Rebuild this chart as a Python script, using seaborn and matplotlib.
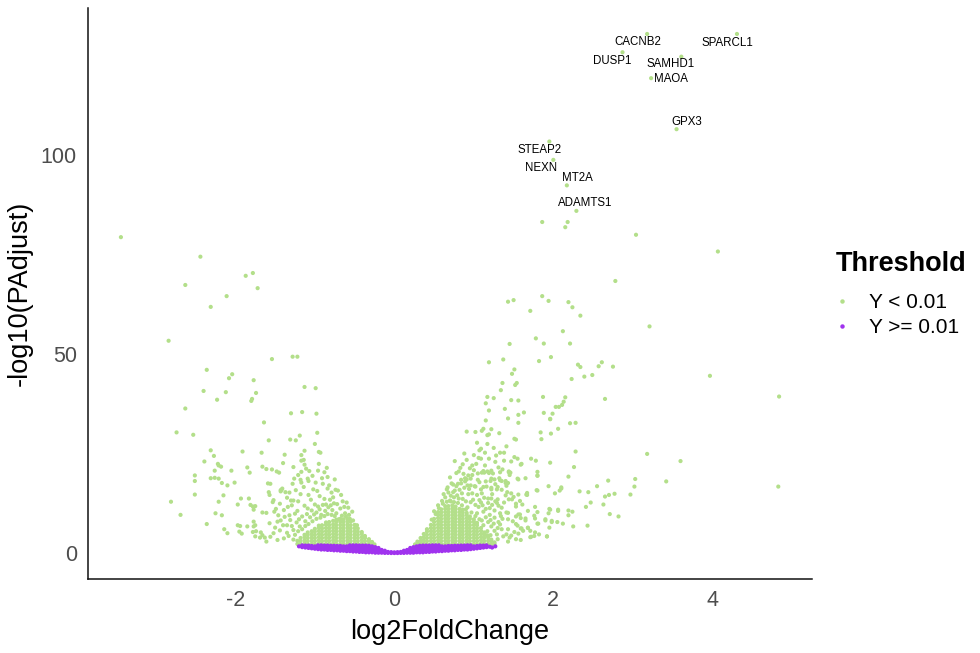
import matplotlib
matplotlib.use("Agg")
import matplotlib.pyplot as plt
from matplotlib.lines import Line2D
import numpy as np
import pandas as pd
import seaborn as sns

# ---------------- data ----------------
genes = ["CACNB2", "SPARCL1", "DUSP1", "SAMHD1", "MAOA", "GPX3",
         "STEAP2", "NEXN", "MT2A", "ADAMTS1"]
gene_lfc = [3.18, 4.31, 2.87, 3.61, 3.23, 3.55, 1.95, 2.00, 2.17, 2.29]
gene_nlp = [130.3, 130.3, 125.7, 124.6, 119.2, 106.4, 103.3, 98.7, 92.3, 85.9]

left_scatter = [
    (-3.44, 79.3), (-2.44, 74.4), (-1.87, 69.6), (-1.78, 70.3), (-2.63, 67.3), (-1.72, 66.5),
    (-2.11, 64.5), (-2.31, 61.8), (-2.84, 53.3), (-1.54, 48.7), (-1.28, 49.3), (-1.22, 49.3),
    (-2.36, 46.0), (-2.04, 44.9), (-2.08, 43.9), (-1.77, 43.4), (-1.13, 41.7), (-0.99, 41.4),
    (-2.40, 40.7), (-2.12, 40.4), (-1.74, 40.2), (-2.23, 38.5), (-1.79, 38.7), (-1.80, 38.2),
    (-2.63, 36.3), (-1.30, 35.1), (-1.16, 35.4), (-0.98, 35.0), (-2.74, 30.3), (-2.53, 29.7),
    (-1.64, 32.8), (-0.97, 30.2), (-1.19, 29.5), (-1.31, 28.5), (-1.24, 28.3), (-1.58, 28.3),
    (-1.00, 27.4), (-2.31, 25.8), (-1.91, 25.5), (-1.67, 25.2), (-1.13, 25.7), (-0.95, 25.4),
    (-0.93, 25.2), (-2.27, 24.4), (-1.38, 24.7), (-1.17, 23.2), (-2.39, 23.0), (-1.40, 22.6),
    (-2.22, 22.4), (-2.21, 22.0), (-2.18, 21.7), (-0.95, 22.4), (-1.13, 22.2), (-1.11, 21.2),
    (-1.85, 21.5), (-1.66, 21.7), (-1.61, 21.1), (-1.54, 21.0), (-1.48, 20.5), (-1.45, 20.2),
    (-1.27, 21.6), (-1.17, 20.4), (-1.07, 20.6), (-0.96, 20.7), (-0.85, 21.4), (-2.26, 20.7),
    (-2.05, 20.7), (-1.82, 20.2), (-2.51, 19.5), (-2.31, 18.8), (-2.26, 18.9), (-2.21, 18.7),
    (-2.51, 18.1), (-2.01, 17.7), (-2.17, 17.6), (-2.10, 17.0), (-1.26, 18.7), (-1.18, 18.4),
    (-1.09, 18.7), (-0.91, 18.8), (-0.84, 19.1), (-0.75, 18.5), (-1.59, 17.5), (-1.56, 17.4),
    (-1.41, 16.2), (-1.43, 15.8), (-2.51, 14.7), (-2.15, 14.5), (-2.81, 12.9), (-2.69, 9.6),
    (-2.36, 7.3), (-2.25, 10.0), (-2.17, 9.5), (-2.21, 12.9), (-2.14, 6.0), (-2.10, 5.0),
    (-1.93, 13.7), (-1.97, 12.2), (-1.83, 13.7), (-1.81, 12.1), (-1.78, 11.7), (-1.75, 11.8),
    (-1.97, 7.0), (-1.94, 6.8), (-1.95, 5.4), (-1.92, 4.9), (-1.85, 6.7), (-1.77, 7.9),
    (-1.77, 6.7), (-1.78, 5.3), (-1.69, 3.9), (-1.66, 4.5), (-1.66, 10.2), (-1.61, 10.1),
    (-1.57, 7.5), (-1.53, 12.8), (-1.49, 11.1),
    (-1.17, 24.6), (-1.14, 23.4), (-1.43, 15.5), (-1.42, 15.9), (-1.37, 15.3), (-1.58, 15.3),
    (-1.57, 14.6), (-1.32, 15.2), (-1.28, 17.4), (-1.17, 17.7), (-1.14, 16.6), (-1.08, 18.1),
    (-0.99, 17.7), (-1.02, 16.0), (-0.97, 15.6), (-0.90, 17.4), (-0.74, 15.9), (-0.71, 15.7),
    (-0.79, 15.2), (-0.65, 13.0), (-0.60, 12.7), (-0.53, 10.4), (-1.77, 10.9), (-1.51, 10.4),
    (-1.46, 9.5), (-1.39, 10.8), (-1.30, 13.2), (-1.29, 12.0), (-1.27, 13.2), (-1.21, 13.0),
    (-1.52, 13.3), (-1.44, 12.4), (-1.75, 7.0), (-1.74, 5.5), (-1.75, 4.2), (-1.68, 5.2),
    (-1.63, 3.9), (-1.61, 2.9), (-1.56, 4.1), (-1.50, 6.4), (-1.44, 5.7), (-1.43, 8.2),
    (-1.38, 9.1), (-1.39, 3.7), (-1.33, 4.3), (-1.27, 5.8), (-1.27, 3.4), (-1.23, 7.7),
    (-1.19, 6.7), (-1.16, 9.2), (-1.09, 11.2), (-1.04, 10.7), (-1.01, 9.7), (-0.96, 11.7),
    (-0.90, 12.1), (-0.87, 10.6), (-0.81, 13.4), (-0.76, 12.5), (-0.73, 10.0), (-0.70, 8.5),
    (-1.35, 7.0), (-1.31, 8.3), (-1.25, 9.9), (-1.12, 8.0), (-1.06, 9.0), (-0.98, 10.2),
    (-0.92, 9.6), (-0.83, 11.5), (-0.78, 10.8), (-0.68, 11.2), (-0.62, 10.0), (-0.57, 9.6),
    (-0.88, 13.6), (-0.94, 14.3), (-1.05, 13.4), (-1.13, 11.9), (-1.22, 10.6), (-1.34, 11.6),
    (-1.47, 7.9), (-1.52, 5.0), (-1.47, 3.3), (-1.35, 5.1),
    (-1.25, 4.6), (-1.29, 6.8), (-1.21, 5.5), (-1.16, 6.0), (-1.12, 6.8), (-1.08, 7.3),
    (-1.03, 8.0), (-0.98, 8.6), (-0.93, 8.9), (-0.88, 9.3), (-0.84, 9.8), (-0.79, 9.6),
    (-0.75, 9.3), (-0.66, 9.4), (-0.61, 9.2), (-0.56, 8.6), (-0.52, 8.2), (-0.47, 7.0),
    (-1.20, 8.5), (-1.10, 9.8), (-1.00, 12.2), (-0.94, 11.0), (-0.86, 12.2), (-0.80, 12.0),
    (-0.72, 12.3), (-0.67, 14.6), (-0.77, 14.0), (-0.84, 16.2), (-1.08, 14.6), (-1.18, 14.8),
    (-1.24, 15.8), (-1.35, 13.9), (-1.40, 7.0), (-1.32, 9.5), (-0.63, 11.6), (-0.58, 11.4),
    (-1.03, 19.4), (-0.88, 20.3), (-1.21, 19.6), (-0.82, 17.0),
]

right_scatter = [
    (1.86, 83.1), (2.18, 83.1), (2.15, 81.8), (3.04, 79.9), (4.07, 75.7), (2.78, 68.3),
    (1.43, 63.1), (1.50, 63.5), (1.86, 64.5), (1.94, 63.3), (2.19, 63.0), (2.24, 61.7),
    (1.71, 60.8), (2.34, 59.6), (3.21, 56.9), (2.12, 55.7), (1.78, 53.9), (1.45, 52.5),
    (1.88, 52.6), (2.21, 52.6), (1.97, 49.2), (1.19, 47.9), (1.37, 48.6), (1.82, 48.2),
    (2.31, 47.3), (2.34, 46.7), (2.57, 46.9), (2.61, 47.9), (2.75, 46.8), (3.97, 44.5),
    (1.51, 46.1), (1.48, 45.0), (2.39, 44.3), (2.49, 44.7), (2.23, 43.7), (1.36, 42.7),
    (1.54, 42.7), (1.52, 42.2), (1.34, 40.9), (4.84, 39.3), (1.17, 39.2), (1.25, 38.9),
    (1.15, 37.6), (1.47, 38.4), (1.56, 38.3), (1.87, 39.2), (2.15, 39.1), (2.13, 38.0),
    (2.11, 37.2), (2.07, 36.7), (2.03, 36.7), (2.65, 38.7), (1.19, 35.8), (1.39, 36.2),
    (1.56, 34.7), (1.63, 35.3), (1.88, 35.2), (1.99, 35.0), (1.43, 33.8), (1.96, 33.7),
    (1.56, 32.7), (1.15, 33.3),
    (3.18, 24.9), (3.60, 23.1), (3.42, 18.0), (4.83, 16.7), (3.03, 18.6), (3.02, 16.7),
    (2.69, 18.2), (2.55, 16.8), (2.28, 25.5), (2.26, 21.6), (2.19, 19.2), (1.96, 22.7),
    (1.72, 23.7), (1.78, 23.2), (1.80, 20.4), (1.80, 19.4), (1.65, 18.8), (1.94, 16.8),
    (2.10, 16.5), (2.08, 15.7), (2.02, 15.0), (2.33, 15.5), (2.44, 15.3), (2.70, 14.6),
    (2.77, 14.9), (2.65, 14.2), (2.97, 14.7), (1.80, 15.7), (1.66, 14.7), (1.84, 30.3),
    (1.85, 28.6), (1.97, 30.0), (2.06, 31.2), (2.21, 32.6), (2.28, 32.7), (1.96, 33.6),
    (1.60, 22.4),
    (2.63, 12.2), (2.71, 9.8), (2.82, 9.2), (2.47, 12.7), (2.41, 11.6), (2.43, 6.9),
    (2.25, 6.7), (2.12, 7.4), (1.92, 4.2), (2.19, 10.7), (2.24, 10.4), (2.19, 9.5),
    (2.06, 10.6), (1.96, 10.9), (1.94, 10.0), (1.77, 11.6), (1.76, 9.4), (1.90, 8.2),
    (1.98, 7.8), (1.80, 7.4), (1.82, 4.7), (1.76, 4.3), (1.71, 4.0), (1.67, 14.6),
    (1.79, 15.8), (1.80, 19.5), (1.55, 18.7),
    (0.91, 30.5), (1.02, 30.4), (1.10, 30.7), (1.12, 31.2), (1.22, 31.1), (1.19, 29.8),
    (1.17, 29.6), (1.32, 30.1), (1.51, 28.7), (1.53, 28.5), (1.04, 27.7), (1.17, 27.4),
    (1.09, 26.2), (1.07, 25.8), (1.33, 25.2), (1.38, 25.2), (1.28, 24.5), (1.51, 24.1),
    (1.55, 23.7), (0.76, 23.1), (0.91, 23.4), (1.06, 23.9), (1.09, 23.7), (1.19, 23.7),
    (1.38, 23.2), (1.59, 22.2), (0.86, 22.3), (0.83, 21.4), (0.81, 20.5), (0.98, 22.0),
    (1.00, 20.8), (0.93, 19.5), (1.12, 20.6), (1.17, 20.5), (1.13, 20.2), (1.22, 20.7),
    (1.24, 20.0), (1.33, 20.3), (1.44, 20.5), (1.46, 20.2), (0.89, 18.8), (0.84, 18.4),
    (1.22, 18.7), (1.33, 18.3), (1.32, 18.8), (1.40, 18.1), (1.43, 17.6), (0.67, 16.5),
    (0.74, 17.2), (1.02, 16.7), (1.09, 16.0), (1.16, 16.7), (1.22, 16.0), (1.30, 16.6),
    (1.35, 15.9), (1.42, 15.3), (1.47, 15.0), (1.40, 14.5), (1.44, 13.5), (1.48, 13.5),
    (1.22, 13.7), (1.29, 12.6), (1.23, 12.1), (1.53, 12.4), (1.53, 11.7), (1.43, 10.1),
    (1.33, 10.0), (1.58, 9.7), (1.53, 9.2), (1.59, 8.8), (1.65, 8.7), (1.65, 8.2),
    (1.33, 7.2), (1.43, 6.0), (1.55, 6.9), (1.60, 6.2), (1.47, 4.4), (1.53, 3.5),
    (1.59, 3.3), (1.43, 2.9), (1.68, 6.4), (1.71, 5.6),
    (1.05, 20.0), (0.98, 19.6), (0.91, 18.5), (0.96, 18.7), (1.19, 20.1), (1.10, 20.2),
    (1.26, 18.5), (1.21, 18.1), (1.35, 18.1), (1.44, 20.3), (1.45, 19.6), (1.56, 18.5),
    (0.72, 17.5), (0.76, 15.7), (0.74, 15.3), (0.84, 17.5), (0.89, 18.0), (0.96, 17.0),
    (1.01, 16.8), (1.07, 17.8), (1.12, 16.6), (1.22, 16.4), (1.29, 16.0), (1.40, 17.6),
    (1.41, 16.9), (1.50, 14.1), (1.56, 14.7), (1.67, 15.1), (2.10, 16.2), (1.58, 13.1),
    (1.61, 12.2), (1.30, 13.5), (1.18, 13.7), (1.09, 12.7), (1.20, 11.3), (1.26, 10.7),
    (1.35, 11.4), (1.41, 10.2), (1.43, 8.5), (1.49, 8.0), (1.56, 9.7), (1.68, 10.6),
    (1.77, 8.7), (1.80, 10.3), (1.95, 11.1), (2.06, 10.9), (1.90, 8.5), (1.98, 8.1),
    (1.81, 7.4), (1.53, 7.3), (1.59, 6.2), (1.31, 7.8), (1.22, 6.7), (1.26, 5.6),
    (1.16, 4.5), (1.35, 6.0), (1.41, 4.7), (1.45, 3.9), (1.30, 3.5), (1.51, 5.3),
    (1.56, 4.9), (1.62, 5.6), (1.68, 6.3), (1.72, 4.1), (1.77, 5.2), (1.92, 4.2),
    (1.95, 6.4), (2.05, 7.8),
    (0.64, 14.0), (0.70, 13.2), (0.79, 14.5), (0.86, 13.6), (0.93, 14.8), (0.99, 13.4),
    (1.04, 14.6), (1.10, 15.0), (1.13, 13.9), (0.68, 15.2), (0.82, 15.9), (0.88, 16.4),
    (0.96, 12.8), (1.06, 11.6), (1.12, 10.4), (1.15, 9.0), (1.18, 7.8), (1.10, 8.2),
    (1.04, 10.0), (0.92, 11.5), (1.26, 8.9), (1.20, 9.6), (1.29, 4.7), (1.36, 8.6),
    (0.60, 13.1), (0.55, 12.0), (0.50, 10.5),
    (0.47, 8.4), (0.52, 9.8), (0.56, 11.3), (0.61, 12.4), (0.66, 12.9), (0.71, 13.0),
    (0.75, 12.8), (0.80, 12.6), (0.85, 12.0), (0.90, 11.0), (0.97, 10.2), (1.02, 9.3),
    (1.07, 8.5), (1.12, 7.0), (1.17, 5.5), (1.21, 4.5), (0.62, 14.8), (0.66, 16.0),
    (0.71, 14.4), (0.75, 14.0), (0.78, 16.8), (0.81, 13.7), (0.85, 15.0), (0.90, 13.0),
    (0.94, 16.1), (0.98, 15.0), (1.02, 12.1), (1.07, 13.3), (1.11, 12.0), (1.15, 11.1),
    (1.18, 12.6), (1.23, 14.8), (1.27, 13.0), (1.31, 11.9), (1.34, 9.3), (1.38, 12.7),
    (1.25, 7.4), (1.30, 6.3), (1.37, 4.2), (1.21, 8.3), (0.70, 19.0), (0.78, 20.1),
    (0.87, 19.9), (0.95, 21.3), (1.03, 22.4), (1.14, 22.0), (1.27, 22.9), (1.31, 21.5),
    (1.36, 21.0), (1.00, 24.6), (1.14, 25.2), (1.25, 26.4), (0.88, 25.0), (1.41, 26.8),
    (1.47, 23.0), (1.05, 18.4), (1.15, 18.0), (1.27, 17.3), (0.80, 17.4), (0.92, 17.0),
]

# dense cores: (log2FoldChange, [-log10 padj values])
left_core = [
    (-1.22, [2.3, 3.1]),
    (-1.18, [2.2, 3.0, 3.8]),
    (-1.13, [2.4, 3.2, 4.0, 4.6]),
    (-1.09, [2.2, 3.0, 3.8, 4.6, 5.2]),
    (-1.04, [2.3, 3.1, 3.9, 4.7, 5.5]),
    (-1.00, [2.2, 3.0, 3.8, 4.6, 5.4, 6.1]),
    (-0.95, [2.4, 3.2, 4.0, 4.8, 5.6, 6.4, 6.9]),
    (-0.91, [2.2, 3.0, 3.8, 4.6, 5.4, 6.2, 7.0]),
    (-0.86, [2.3, 3.1, 3.9, 4.7, 5.5, 6.3, 7.1, 7.7]),
    (-0.82, [2.2, 3.0, 3.8, 4.6, 5.4, 6.2, 7.0, 7.8]),
    (-0.77, [2.4, 3.2, 4.0, 4.8, 5.6, 6.4, 7.2, 8.1]),
    (-0.73, [2.2, 3.0, 3.8, 4.6, 5.4, 6.2, 7.0, 7.8, 8.4]),
    (-0.68, [2.3, 3.1, 3.9, 4.7, 5.5, 6.3, 7.1, 7.9, 8.6]),
    (-0.64, [2.2, 3.0, 3.8, 4.6, 5.4, 6.2, 7.0, 7.8, 8.5]),
    (-0.59, [2.4, 3.2, 4.0, 4.8, 5.6, 6.4, 7.2, 8.0, 8.6]),
    (-0.55, [2.2, 3.0, 3.8, 4.6, 5.4, 6.2, 7.0, 7.9]),
    (-0.50, [2.3, 3.1, 3.9, 4.7, 5.5, 6.3, 7.1]),
    (-0.46, [2.2, 3.0, 3.8, 4.6, 5.4, 6.2]),
    (-0.41, [2.4, 3.2, 4.0, 4.8, 5.3]),
    (-0.37, [2.2, 3.0, 3.8, 4.3]),
    (-0.32, [2.3, 3.0, 3.5]),
    (-0.28, [2.2, 2.8]),
    (-0.25, [2.2]),
]

right_core = [
    (0.26, [2.2]),
    (0.29, [2.3, 2.9]),
    (0.33, [2.2, 3.0, 3.8]),
    (0.37, [2.4, 3.2, 4.0, 4.8]),
    (0.41, [2.2, 3.0, 3.8, 4.6, 5.4, 6.0]),
    (0.46, [2.3, 3.1, 3.9, 4.7, 5.5, 6.3, 7.1]),
    (0.50, [2.2, 3.0, 3.8, 4.6, 5.4, 6.2, 7.0, 7.8, 8.6]),
    (0.55, [2.4, 3.2, 4.0, 4.8, 5.6, 6.4, 7.2, 8.0, 8.8, 9.6, 10.3]),
    (0.59, [2.2, 3.0, 3.8, 4.6, 5.4, 6.2, 7.0, 7.8, 8.6, 9.4, 10.2, 11.0]),
    (0.64, [2.3, 3.1, 3.9, 4.7, 5.5, 6.3, 7.1, 7.9, 8.7, 9.5, 10.3, 11.1, 11.8]),
    (0.68, [2.2, 3.0, 3.8, 4.6, 5.4, 6.2, 7.0, 7.8, 8.6, 9.4, 10.2, 11.0, 11.8]),
    (0.73, [2.4, 3.2, 4.0, 4.8, 5.6, 6.4, 7.2, 8.0, 8.8, 9.6, 10.4, 11.2, 12.0]),
    (0.77, [2.2, 3.0, 3.8, 4.6, 5.4, 6.2, 7.0, 7.8, 8.6, 9.4, 10.2, 11.0, 11.7]),
    (0.82, [2.3, 3.1, 3.9, 4.7, 5.5, 6.3, 7.1, 7.9, 8.7, 9.5, 10.3, 11.1]),
    (0.86, [2.2, 3.0, 3.8, 4.6, 5.4, 6.2, 7.0, 7.8, 8.6, 9.4, 10.2, 10.9]),
    (0.91, [2.4, 3.2, 4.0, 4.8, 5.6, 6.4, 7.2, 8.0, 8.8, 9.6, 10.1]),
    (0.95, [2.2, 3.0, 3.8, 4.6, 5.4, 6.2, 7.0, 7.8, 8.6, 9.2]),
    (1.00, [2.3, 3.1, 3.9, 4.7, 5.5, 6.3, 7.1, 7.9, 8.5]),
    (1.04, [2.2, 3.0, 3.8, 4.6, 5.4, 6.2, 7.0, 7.6]),
    (1.09, [2.4, 3.2, 4.0, 4.8, 5.6, 6.3]),
    (1.13, [2.2, 3.0, 3.8, 4.6, 5.2]),
    (1.18, [2.3, 3.1, 3.9, 4.4]),
    (1.22, [2.2, 3.0, 3.4]),
    (1.26, [2.3, 2.7]),
]

purple_band = [
    (-1.20, [1.7]), (-1.16, [1.5, 1.95]), (-1.12, [1.4, 1.9]), (-1.08, [1.3, 1.9]),
    (-1.04, [1.2, 1.8]), (-1.00, [1.1, 1.7]), (-0.96, [1.0, 1.6, 1.95]),
    (-0.92, [0.9, 1.5, 1.95]), (-0.88, [0.9, 1.4, 1.9]), (-0.84, [0.8, 1.4, 1.9]),
    (-0.80, [0.8, 1.3, 1.85]), (-0.76, [0.7, 1.3, 1.85]), (-0.72, [0.7, 1.2, 1.8]),
    (-0.68, [0.6, 1.2, 1.8]), (-0.64, [0.6, 1.1, 1.7]), (-0.60, [0.5, 1.1, 1.7]),
    (-0.56, [0.5, 1.0, 1.6, 1.95]), (-0.52, [0.4, 1.0, 1.6, 1.95]),
    (-0.48, [0.4, 0.9, 1.5, 1.95]), (-0.44, [0.3, 0.9, 1.5, 1.9]),
    (-0.40, [0.3, 0.8, 1.4, 1.9]), (-0.36, [0.2, 0.8, 1.3, 1.9]),
    (-0.32, [0.2, 0.7, 1.3, 1.85]), (-0.28, [0.2, 0.7, 1.2, 1.7]),
    (-0.24, [0.1, 0.6, 1.1, 1.5]), (-0.20, [0.1, 0.5, 1.0, 1.3]),
    (-0.16, [0.1, 0.4, 0.8]), (-0.12, [0.05, 0.35, 0.6]), (-0.08, [0.05, 0.3]),
    (-0.04, [0.02, 0.25]), (0.00, [0.02, 0.2]), (0.04, [0.02, 0.25]), (0.08, [0.05, 0.3]),
    (0.12, [0.05, 0.35, 0.6]), (0.16, [0.1, 0.4, 0.8]), (0.20, [0.1, 0.5, 1.0, 1.3]),
    (0.24, [0.1, 0.6, 1.1, 1.5]), (0.28, [0.2, 0.7, 1.2, 1.7]),
    (0.32, [0.2, 0.7, 1.3, 1.85]), (0.36, [0.2, 0.8, 1.3, 1.9]),
    (0.40, [0.3, 0.8, 1.4, 1.9]), (0.44, [0.3, 0.9, 1.5, 1.9]),
    (0.48, [0.4, 0.9, 1.5, 1.95]), (0.52, [0.4, 1.0, 1.6, 1.95]),
    (0.56, [0.5, 1.0, 1.6, 1.95]), (0.60, [0.5, 1.1, 1.7]), (0.64, [0.6, 1.1, 1.7]),
    (0.68, [0.6, 1.2, 1.8]), (0.72, [0.7, 1.2, 1.8]), (0.76, [0.7, 1.3, 1.85]),
    (0.80, [0.8, 1.3, 1.85]), (0.84, [0.8, 1.4, 1.9]), (0.88, [0.9, 1.4, 1.9]),
    (0.92, [0.9, 1.5, 1.95]), (0.96, [1.0, 1.6, 1.95]), (1.00, [1.1, 1.7]),
    (1.04, [1.2, 1.8]), (1.08, [1.3, 1.9]), (1.12, [1.4, 1.9]), (1.16, [1.5, 1.95]),
    (1.20, [1.6]), (1.23, [1.4]), (1.27, [1.7]),
]

threshold_labels = ["Y < 0.01", "Y >= 0.01"]
threshold_colors = ["#B3DF8A", "#A033EE"]

# ---------------- assemble table ----------------
def expand(cols):
    return [(x, y) for x, ys in cols for y in ys]

green_pts = (expand(left_core) + expand(right_core) + left_scatter + right_scatter
             + list(zip(gene_lfc, gene_nlp)))
purple_pts = expand(purple_band)

df = pd.DataFrame(
    [(x, y, threshold_labels[0]) for x, y in green_pts]
    + [(x, y, threshold_labels[1]) for x, y in purple_pts],
    columns=["log2FoldChange", "nlog10padj", "Threshold"],
)

# ---------------- plot ----------------
sns.set_theme(style="white")
plt.rcParams["font.family"] = ["Liberation Sans", "DejaVu Sans"]
plt.rcParams["axes.unicode_minus"] = False

W, H = 980, 653
fig = plt.figure(figsize=(W / 100, H / 100), dpi=100)
ax = fig.add_axes([88 / W, 74 / H, 724 / W, 571 / H])

sns.scatterplot(
    data=df, x="log2FoldChange", y="nlog10padj", hue="Threshold",
    hue_order=threshold_labels, palette=dict(zip(threshold_labels, threshold_colors)),
    s=9, linewidth=0, ax=ax, legend=False,
)

# ggplot-style 5% expansion
xmin, xmax = df["log2FoldChange"].min(), df["log2FoldChange"].max()
ymin, ymax = df["nlog10padj"].min(), df["nlog10padj"].max()
ax.set_xlim(xmin - 0.05 * (xmax - xmin), xmax + 0.05 * (xmax - xmin))
ax.set_ylim(ymin - 0.05 * (ymax - ymin), ymax + 0.05 * (ymax - ymin))

ax.set_xticks([-2, 0, 2, 4])
ax.set_yticks([0, 50, 100])
ax.tick_params(axis="both", labelsize=15.5, labelcolor="#4D4D4D", color="#333333",
               length=3.5, width=1.0, direction="out", pad=4.5)
for side in ["top", "right"]:
    ax.spines[side].set_visible(False)
for side in ["left", "bottom"]:
    ax.spines[side].set_color("#111111")
    ax.spines[side].set_linewidth(1.1)

ax.set_xlabel("log2FoldChange", fontsize=19.5, color="black", labelpad=6)
ax.set_ylabel("-log10(PAdjust)", fontsize=19.5, color="black", labelpad=6)

# gene labels (offsets in points)
label_offsets = {
    "CACNB2": (-6.5, -6.0), "SPARCL1": (-7.2, -6.5), "DUSP1": (-7.6, -6.3),
    "SAMHD1": (-7.4, -5.5), "MAOA": (14.6, -0.7), "GPX3": (7.0, 5.5),
    "STEAP2": (-7.0, -6.0), "NEXN": (-8.6, -5.8), "MT2A": (7.7, 5.0),
    "ADAMTS1": (6.2, 5.5),
}
for g, x, y in zip(genes, gene_lfc, gene_nlp):
    ax.annotate(g, (x, y), xytext=label_offsets[g], textcoords="offset points",
                ha="center", va="center", fontsize=8.3, color="black")

# legend
handles = [Line2D([], [], marker="o", ls="", markersize=3.2, markeredgewidth=0,
                  markerfacecolor=c) for c in threshold_colors]
leg = ax.legend(handles, threshold_labels, title="Threshold", loc="center left",
                bbox_to_anchor=(825 / W, 1 - 294 / H), bbox_transform=fig.transFigure,
                frameon=False, fontsize=15,
                title_fontproperties={"size": 19.5, "weight": "bold"},
                handlelength=0.6, handletextpad=1.0, labelspacing=0.3, borderpad=0,
                alignment="left")
leg.get_title().set_color("black")
for t in leg.get_texts():
    t.set_color("black")
leg._legend_box.sep = 12

fig.savefig("out.png", dpi=100)
